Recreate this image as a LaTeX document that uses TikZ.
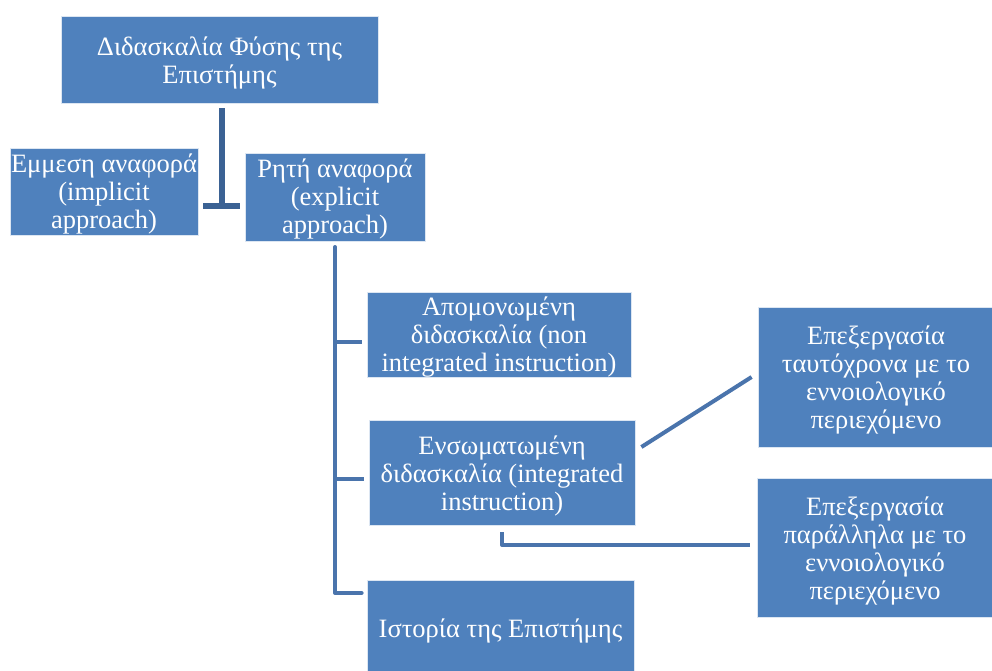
\documentclass[tikz,border=0pt]{standalone}
\usepackage{fontspec}
\setmainfont{Liberation Serif}
\usetikzlibrary{calc}
\definecolor{boxblue}{HTML}{4F81BD}
\definecolor{linkblue}{HTML}{4A74AC}
\definecolor{darklink}{HTML}{3B6294}
\tikzset{
  box/.style={fill=boxblue, draw=white!80!boxblue, line width=0.8pt, inner sep=0pt},
  txt/.style={inner sep=0pt, text=white, align=center, font=\fontsize{26.5}{28}\selectfont},
  link/.style={draw=linkblue, line width=4pt},
  toplink/.style={draw=darklink, line width=6pt},
}
\begin{document}
\begin{tikzpicture}[x=1pt,y=-1pt]
\useasboundingbox (0,0) rectangle (992,670);
\fill[white] (0,0) rectangle (992,670);

\node[box, minimum width=317pt, minimum height=87pt] (top) at (219.5,59.5) {};
\node[txt] (toptxt) at ([yshift=-3pt]top.center) {Διδασκαλία Φύσης της\\Επιστήμης};
\node[box, minimum width=188pt, minimum height=87pt] (impl) at (104,191.5) {};
\node[txt] (impltxt) at ([yshift=-2pt]impl.center) {Εμμεση αναφορά\\(implicit\\approach)};
\node[box, minimum width=180pt, minimum height=88pt] (expl) at (335,197) {};
\node[txt] (expltxt) at ([yshift=-2pt]expl.center) {Ρητή αναφορά\\(explicit\\approach)};

\node[box, minimum width=264pt, minimum height=85pt] (apom) at (499,334.5) {};
\node[txt] (apomtxt) at ([yshift=-3pt]apom.center) {Απομονωμένη\\διδασκαλία (non\\integrated instruction)};
\node[box, minimum width=266pt, minimum height=105pt] (ensom) at (502,472.5) {};
\node[txt] (ensomtxt) at ([yshift=-3pt]ensom.center) {Ενσωματωμένη\\διδασκαλία (integrated\\instruction)};
\node[box, minimum width=267pt, minimum height=96pt] (istor) at (500.5,628) {};
\node[txt] (istortxt) at ([yshift=-3pt]istor.center) {Ιστορία της Επιστήμης};

\node[box, minimum width=236pt, minimum height=140pt] (tauto) at (876,377) {};
\node[txt] (tautotxt) at ([yshift=-3pt]tauto.center) {Επεξεργασία\\ταυτόχρονα με το\\εννοιολογικό\\περιεχόμενο};
\node[box, minimum width=236pt, minimum height=139pt] (paral) at (875,547.5) {};
\node[txt] (paraltxt) at ([yshift=-3pt]paral.center) {Επεξεργασία\\παράλληλα με το\\εννοιολογικό\\περιεχόμενο};

% top connector
\coordinate (mid) at ($(impl.east)!0.5!(expl.west)$);
\draw[toplink] ([yshift=-5pt]top.south -| mid) -- (mid |- 0,206);
\draw[toplink] ([xshift=5pt]impl.east |- 0,206) -- ([xshift=-5pt]expl.west |- 0,206);

% explicit branch
\coordinate (spine) at (335,247);
\draw[link, line cap=round, line join=round] (spine) -- (335,593) -- ([xshift=-5pt]istor.west |- 0,593);
\draw[link] (335,342) -- ([xshift=-5pt]apom.west |- 0,342);
\draw[link] (335,479) -- ([xshift=-5pt]ensom.west |- 0,479);

% integrated branches
\draw[link] ([xshift=6pt]ensom.east |- 0,447) -- ([xshift=-6pt]tauto.west);
\draw[link, line join=round] ([yshift=-7pt]ensom.south) -- (ensom.south |- 0,545) -- ([xshift=-7pt]paral.west |- 0,545);
\end{tikzpicture}
\end{document}
